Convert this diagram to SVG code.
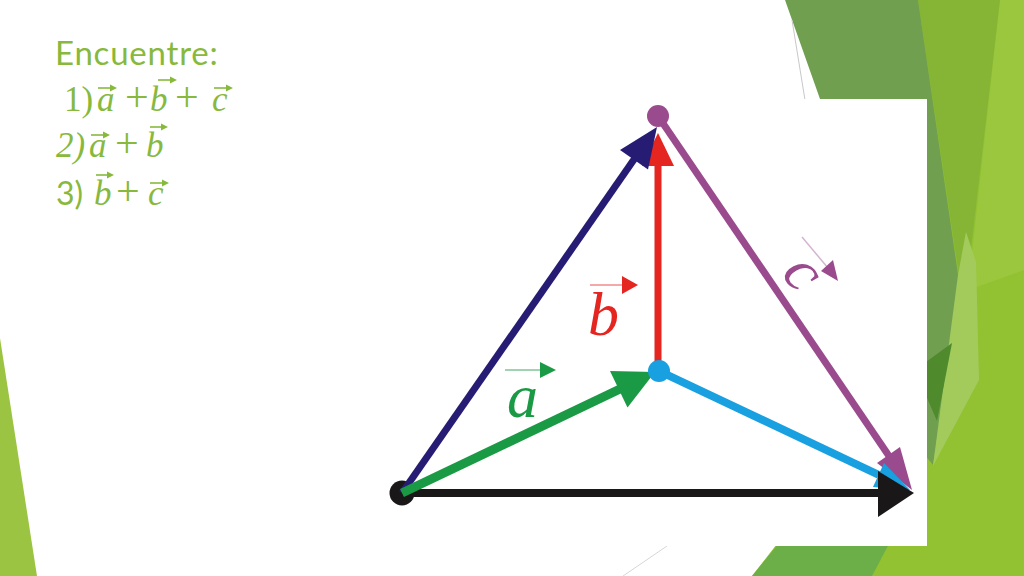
<svg xmlns="http://www.w3.org/2000/svg" width="1024" height="576" viewBox="0 0 1024 576">
  <style>
    .title { font-family: Lato, "Open Sans", "Liberation Sans", sans-serif; font-size: 33px; letter-spacing: 0.8px; fill: #88b93c; }
    .num { font-family: Lato, "Open Sans", "Liberation Sans", sans-serif; font-size: 32px; fill: #88b93c; }
    .math { font-family: "Liberation Serif", "DejaVu Serif", serif; font-size: 35px; fill: #88b93c; }
    .it { font-style: italic; }
    .varrow { stroke: #88b93c; stroke-width: 1.6; fill: none; }
    .vhead { fill: #88b93c; }
    .plusline { stroke: #88b93c; stroke-width: 1.8; }
    .lbl { font-family: "Liberation Serif", "DejaVu Serif", serif; font-style: italic; font-size: 62px; }
  </style>
  <rect x="0" y="0" width="1024" height="576" fill="#ffffff"/>

  <!-- background facets -->
  <g id="background">
    <polygon points="900,0 1024,0 1024,576 752,576 780,540 930,280" fill="#92c232"/>
    <polygon points="1000,0 1024,0 1024,270 968,290" fill="#9bc73f"/>
    <polygon points="918,0 1000,0 964,310" fill="#86b535"/>
    <polygon points="785,0 918,0 960,288 933,465 880,400 820,99" fill="#70a04f"/>
    <polygon points="966,232 976,262 979,380 933,466 958,275" fill="#a3cb5c"/>
    <polygon points="915,370 952,343 937,421" fill="#4f8a2c"/>
    <polygon points="752,576 780,542 890,542 872,576" fill="#6cae47"/>
    <polygon points="0,338 37,576 0,576" fill="#9cc443"/>
    <line x1="792" y1="20" x2="805" y2="100" stroke="#c8c8c8" stroke-width="1"/>
    <line x1="623" y1="576" x2="667" y2="546" stroke="#d6d6d6" stroke-width="1"/>
  </g>

  <!-- picture frame -->
  <rect id="picture" x="380" y="99" width="547" height="447" fill="#ffffff"/>

  <!-- question text -->
  <g id="question">
    <text class="title" x="55" y="65">Encuentre:</text>
    <text class="math" y="111"><tspan x="64">1)</tspan><tspan class="it" x="97">a</tspan><tspan x="125" font-size="42" font-family="Liberation Serif, serif">+</tspan><tspan class="it" x="150">b</tspan><tspan x="175" font-size="42" font-family="Liberation Serif, serif">+</tspan><tspan class="it" x="212">c</tspan></text>
    <text class="math" y="157"><tspan class="it" x="56">2)</tspan><tspan class="it" x="89">a</tspan><tspan x="115" font-size="42" font-family="Liberation Serif, serif">+</tspan><tspan class="it" x="146">b</tspan></text>
    <text class="math" y="205"><tspan class="num" x="56">3)</tspan><tspan class="it" x="94">b</tspan><tspan x="116" font-size="42" font-family="Liberation Serif, serif">+</tspan><tspan class="it" x="148">c</tspan></text>
    <g id="vector-marks">
      <line class="varrow" x1="98" y1="88" x2="112" y2="88"/><polygon class="vhead" points="110,84.5 117,88 110,91.5"/>
      <line class="varrow" x1="158" y1="80" x2="172" y2="80"/><polygon class="vhead" points="170,76.5 177,80 170,83.5"/>
      <line class="varrow" x1="214" y1="88" x2="228" y2="88"/><polygon class="vhead" points="226,84.5 233,88 226,91.5"/>
      <line class="varrow" x1="91" y1="135" x2="105" y2="135"/><polygon class="vhead" points="103,131.5 110,135 103,138.5"/>
      <line class="varrow" x1="150" y1="127" x2="163" y2="127"/><polygon class="vhead" points="161,123.5 168,127 161,130.5"/>
      <line class="varrow" x1="96" y1="175" x2="109" y2="175"/><polygon class="vhead" points="107,171.5 114,175 107,178.5"/>
      <line class="varrow" x1="150" y1="183" x2="164" y2="183"/><polygon class="vhead" points="162,179.5 169,183 162,186.5"/>
    </g>
  </g>

  <!-- nodes (points) -->
  <g id="node-origin"><circle cx="402" cy="493" r="12.5" fill="#1a1718"/></g>
  <g id="node-top"><circle cx="658" cy="116" r="11" fill="#9a4b8e"/></g>

  <!-- connectors -->
  <g id="connectors">
    <g id="vec-c">
      <line x1="658" y1="116" x2="889" y2="456" stroke="#9a4b8e" stroke-width="7"/>
      <polygon points="912,490 900,447 877,463" fill="#9a4b8e"/>
    </g>
    <g id="vec-blue">
      <line x1="659" y1="371" x2="879" y2="475" stroke="#19a0e0" stroke-width="8"/>
      <polygon points="910,490 884,463 873,487" fill="#19a0e0"/>
    </g>
    <g id="vec-black">
      <line x1="402" y1="493" x2="880" y2="493" stroke="#1a1718" stroke-width="8"/>
      <polygon points="914,493 878,471 878,517" fill="#1a1718"/>
    </g>
    <g id="vec-b">
      <line x1="658" y1="371" x2="658" y2="163" stroke="#e42520" stroke-width="7"/>
      <polygon points="658,133 642,166 674,166" fill="#e42520"/>
    </g>
    <g id="vec-navy">
      <line x1="402" y1="493" x2="635" y2="158" stroke="#261c73" stroke-width="7"/>
      <polygon points="657,127 648,169.5 620,150" fill="#261c73"/>
    </g>
    <g id="vec-a">
      <line x1="402" y1="493" x2="620" y2="389" stroke="#1a9a44" stroke-width="9"/>
      <polygon points="655,372 627.5,407.5 610,371" fill="#1a9a44"/>
    </g>
  </g>

  <g id="node-center"><circle cx="659" cy="371" r="11" fill="#19a0e0"/></g>

  <!-- labels -->
  <g id="label-b">
    <text class="lbl" x="588" y="335" fill="#e42520">b</text>
    <line x1="590" y1="285" x2="625" y2="285" stroke="#ef8d8a" stroke-width="1.5"/>
    <polygon points="622,276 638,285 622,294" fill="#e42520"/>
  </g>
  <g id="label-a">
    <text class="lbl" x="507" y="417" fill="#1a9a44">a</text>
    <line x1="505" y1="370" x2="543" y2="370" stroke="#7fc597" stroke-width="1.5"/>
    <polygon points="540,362 556,370 540,378" fill="#1a9a44"/>
  </g>
  <g id="label-c">
    <text class="lbl" x="0" y="0" fill="#9a4b8e" transform="translate(797,277) rotate(51) translate(-13,11)">c</text>
    <line x1="802" y1="237" x2="828" y2="268" stroke="#d4b5cf" stroke-width="1.5"/>
    <polygon points="838,281 821,271 833,260" fill="#9a4b8e"/>
  </g>
</svg>
